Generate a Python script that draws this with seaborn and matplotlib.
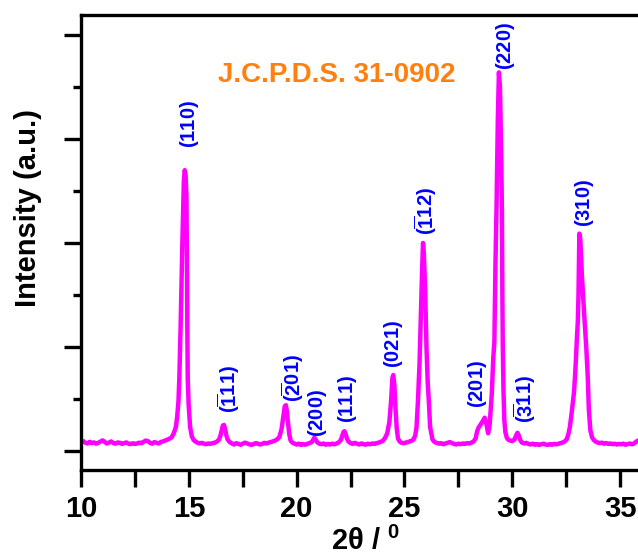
import matplotlib
matplotlib.use("Agg")
import matplotlib.pyplot as plt
from matplotlib.ticker import MultipleLocator, NullFormatter
import pandas as pd
import seaborn as sns

# ---------------- data ----------------
two_theta = [
    10.0, 10.1, 10.2, 10.3, 10.4, 10.5, 10.6, 10.7, 10.8, 10.9,
    11.0, 11.1, 11.2, 11.3, 11.4, 11.5, 11.6, 11.7, 11.8, 11.9,
    12.0, 12.1, 12.2, 12.3, 12.4, 12.5, 12.6, 12.7, 12.8, 12.9,
    13.0, 13.1, 13.2, 13.3, 13.4, 13.5, 13.6, 13.7, 13.8, 13.9,
    14.0, 14.1, 14.2, 14.3, 14.4, 14.46, 14.52, 14.56, 14.62, 14.7,
    14.77, 14.81, 14.85, 14.89, 14.91, 14.93, 14.95, 14.99, 15.06, 15.14,
    15.22, 15.3, 15.4, 15.5, 15.6, 15.7, 15.8, 15.9, 16.0, 16.1,
    16.2, 16.3, 16.4, 16.47, 16.53, 16.58, 16.63, 16.68, 16.74, 16.8,
    16.9, 17.0, 17.1, 17.2, 17.3, 17.4, 17.5, 17.6, 17.7, 17.8,
    17.9, 18.0, 18.1, 18.2, 18.3, 18.4, 18.5, 18.6, 18.7, 18.8,
    18.9, 19.0, 19.1, 19.2, 19.3, 19.38, 19.45, 19.5, 19.55, 19.6,
    19.66, 19.72, 19.8, 19.9, 20.0, 20.1, 20.2, 20.3, 20.4, 20.5,
    20.6, 20.7, 20.76, 20.82, 20.88, 20.95, 21.05, 21.15, 21.25, 21.35,
    21.45, 21.55, 21.65, 21.75, 21.85, 21.95, 22.05, 22.12, 22.18, 22.22,
    22.27, 22.33, 22.4, 22.5, 22.6, 22.7, 22.8, 22.9, 23.0, 23.1,
    23.2, 23.3, 23.4, 23.5, 23.6, 23.7, 23.8, 23.9, 24.0, 24.1,
    24.2, 24.3, 24.38, 24.44, 24.48, 24.53, 24.58, 24.64, 24.7, 24.78,
    24.85, 24.95, 25.05, 25.15, 25.25, 25.35, 25.42, 25.5, 25.56, 25.63,
    25.7, 25.76, 25.82, 25.86, 25.9, 25.96, 26.02, 26.08, 26.13, 26.19,
    26.3, 26.4, 26.5, 26.6, 26.7, 26.8, 26.9, 27.0, 27.1, 27.2,
    27.3, 27.4, 27.5, 27.6, 27.7, 27.8, 27.9, 28.0, 28.1, 28.2,
    28.3, 28.37, 28.45, 28.55, 28.64, 28.72, 28.8, 28.88, 28.95, 29.05,
    29.12, 29.17, 29.22, 29.27, 29.33, 29.38, 29.43, 29.49, 29.52, 29.54,
    29.56, 29.59, 29.63, 29.68, 29.75, 29.82, 29.9, 30.0, 30.1, 30.18,
    30.24, 30.3, 30.38, 30.45, 30.55, 30.65, 30.75, 30.85, 30.95, 31.05,
    31.15, 31.25, 31.35, 31.45, 31.55, 31.65, 31.75, 31.85, 31.95, 32.05,
    32.15, 32.25, 32.35, 32.45, 32.52, 32.6, 32.67, 32.75, 32.81, 32.86,
    32.91, 32.95, 33.0, 33.04, 33.07, 33.09, 33.11, 33.15, 33.19, 33.23,
    33.28, 33.35, 33.43, 33.5, 33.55, 33.62, 33.7, 33.77, 33.85, 33.95,
    34.05, 34.15, 34.25, 34.35, 34.45, 34.55, 34.65, 34.75, 34.85, 34.95,
    35.05, 35.15, 35.25, 35.35, 35.45, 35.55, 35.65, 35.75, 35.83, 35.9,
]
intensity = [
    85, 95, 80, 72, 88, 75, 82, 70, 78, 90,
    102, 86, 72, 80, 92, 76, 70, 82, 78, 68,
    75, 82, 70, 66, 74, 68, 72, 80, 75, 88,
    100, 95, 78, 70, 85, 78, 72, 86, 92, 100,
    108, 118, 130, 170, 230, 330, 480, 700, 1200, 2000,
    2600, 2700, 2660, 2450, 1900, 1200, 700, 450, 230, 140,
    106, 92, 80, 72, 78, 70, 65, 72, 68, 75,
    80, 90, 110, 150, 200, 245, 250, 215, 150, 110,
    85, 72, 62, 75, 68, 60, 70, 80, 72, 65,
    58, 66, 75, 70, 62, 68, 78, 72, 80, 86,
    92, 100, 112, 135, 210, 330, 430, 440, 380, 270,
    160, 100, 80, 70, 62, 70, 58, 66, 60, 68,
    75, 85, 105, 128, 110, 85, 70, 65, 72, 60,
    68, 62, 70, 64, 72, 82, 105, 150, 185, 190,
    165, 120, 92, 75, 68, 78, 70, 62, 72, 66,
    60, 70, 64, 72, 68, 75, 80, 88, 98, 125,
    170, 280, 480, 700, 730, 640, 430, 220, 120, 90,
    80, 75, 80, 85, 92, 100, 110, 150, 230, 500,
    850, 1300, 1750, 2000, 1900, 1550, 1000, 650, 480, 230,
    110, 85, 78, 70, 75, 65, 72, 80, 85, 76,
    68, 62, 70, 65, 72, 68, 75, 72, 80, 90,
    120, 190, 230, 260, 290, 320, 260, 170, 250, 550,
    900, 1050, 1800, 2350, 3200, 3640, 3500, 2800, 2300, 1500,
    1000, 600, 300, 180, 125, 108, 100, 95, 108, 150,
    175, 150, 100, 80, 72, 78, 68, 62, 70, 60,
    66, 58, 65, 70, 62, 58, 66, 60, 68, 64,
    70, 75, 82, 95, 110, 160, 230, 360, 470, 560,
    720, 875, 1100, 1250, 1500, 1800, 2090, 2050, 1880, 1680,
    1500, 1260, 1000, 712, 400, 200, 130, 108, 92, 82,
    75, 80, 70, 76, 68, 72, 65, 70, 62, 68,
    64, 70, 60, 66, 72, 64, 72, 90, 100, 95,
]

hkl_labels = [r"$(110)$", r"$(\overline{1}11)$", r"$(\overline{2}01)$", r"$(200)$",
              r"$(111)$", r"$(021)$", r"$(\overline{1}12)$", r"$(201)$",
              r"$(220)$", r"$(\overline{3}11)$", r"$(310)$"]
hkl_x = [15.05, 16.82, 19.79, 20.95, 22.38, 24.47, 25.96, 28.41, 29.67, 30.59, 33.33]
hkl_y = [2913, 365, 471, 130, 269, 798, 2077, 413, 3663, 269, 2154]

card_text = "J.C.P.D.S. 31-0902"
x_ticks = [10, 15, 20, 25, 30, 35]

# ---------------- styling ----------------
sns.set_style("ticks")
plt.rcParams["font.family"] = ["Liberation Sans", "DejaVu Sans"]
plt.rcParams["font.weight"] = "bold"
plt.rcParams["text.color"] = "black"
plt.rcParams["axes.labelcolor"] = "black"
plt.rcParams["xtick.color"] = "black"
plt.rcParams["ytick.color"] = "black"
plt.rcParams["mathtext.fontset"] = "custom"
plt.rcParams["mathtext.rm"] = "Liberation Sans:bold"
plt.rcParams["mathtext.it"] = "Liberation Sans:bold"
plt.rcParams["mathtext.bf"] = "Liberation Sans:bold"
plt.rcParams["mathtext.default"] = "rm"

fig = plt.figure(figsize=(6.38, 5.58), dpi=100)
ax = fig.add_axes([81 / 638, 88 / 558, 557 / 638, 455 / 558])

df = pd.DataFrame({"two_theta": two_theta, "intensity": intensity})
sns.lineplot(data=df, x="two_theta", y="intensity", color="#FF00FF",
             linewidth=3.2, ax=ax, sort=False, estimator=None)

ax.set_xlim(10, 35.83)
ax.set_ylim(-183, 4192)

ax.set_xticks(x_ticks)
ax.xaxis.set_minor_locator(MultipleLocator(2.5))
ax.yaxis.set_major_locator(MultipleLocator(1000))
ax.yaxis.set_minor_locator(MultipleLocator(500))
ax.yaxis.set_major_formatter(NullFormatter())

for s in ["left", "bottom", "top"]:
    ax.spines[s].set_linewidth(2.4)
    ax.spines[s].set_color("black")
ax.spines["right"].set_visible(False)

ax.tick_params(axis="x", which="both", direction="out", length=12, width=2.4,
               labelsize=21, pad=6, top=False, colors="black")
ax.tick_params(axis="y", which="major", direction="out", length=12, width=2.4,
               right=False, colors="black")
ax.tick_params(axis="y", which="minor", direction="out", length=6, width=2.4,
               right=False, colors="black")
for lab in ax.get_xticklabels():
    lab.set_fontweight("bold")

ax.set_xlabel("2θ / $^{0}$", fontsize=21, fontweight="bold", va="bottom",
              color="black")
ax.xaxis.set_label_coords(0.511, -0.190)
ax.set_ylabel("Intensity (a.u.)", fontsize=21, fontweight="bold", color="black")
ax.yaxis.set_label_coords(-0.070, 0.576)

for lab, xv, yv in zip(hkl_labels, hkl_x, hkl_y):
    ax.text(xv, yv, lab, rotation=90, ha="center", va="bottom",
            color="#0000FF", fontsize=14.5)

ax.text(16.35, 3548, card_text, color="#FF7F0F", fontsize=20,
        fontweight="bold", ha="left", va="baseline")

fig.savefig("out.png", dpi=100)
